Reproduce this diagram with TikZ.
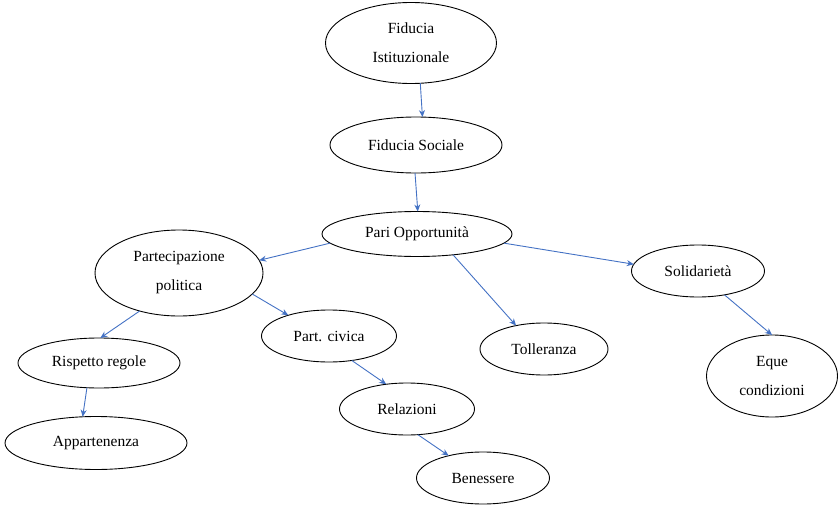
\documentclass[tikz,border=0pt]{standalone}
\usepackage{fontspec}
\setmainfont{Liberation Serif}
\usetikzlibrary{shapes.geometric,arrows.meta}
\definecolor{arrowblue}{HTML}{4472C4}
\begin{document}
\begin{tikzpicture}[x=1pt,y=-1pt,
  bubble/.style={draw=black, line width=0.9pt, ellipse, inner sep=0pt, outer sep=0pt,
    font=\fontsize{15.5}{29}\selectfont, align=center},
  link/.style={draw=arrowblue, line width=0.9pt, -{Stealth[length=7pt,width=6pt]}}]
\useasboundingbox (0,0) rectangle (839,506);
\node[bubble, minimum width=171pt, minimum height=81pt] (fi) at (411,43) {Fiducia\\Istituzionale};
\node[bubble, minimum width=172pt, minimum height=56pt] (fs) at (416,145) {Fiducia Sociale};
\node[bubble, minimum width=190pt, minimum height=45pt] (po) at (417,234) {Pari Opportunità};
\node[bubble, minimum width=168pt, minimum height=86pt] (pp) at (179,273) {Partecipazione\\politica};
\node[bubble, minimum width=162pt, minimum height=50pt] (rr) at (99,363) {Rispetto regole};
\node[bubble, minimum width=182pt, minimum height=53pt] (ap) at (96,443) {Appartenenza};
\node[bubble, minimum width=135pt, minimum height=52pt] (pc) at (329,336) {Part. civica};
\node[bubble, minimum width=135pt, minimum height=52pt] (re) at (407,409) {Relazioni};
\node[bubble, minimum width=133pt, minimum height=52pt] (be) at (483,478) {Benessere};
\node[bubble, minimum width=128pt, minimum height=52pt] (to) at (544,349) {Tolleranza};
\node[bubble, minimum width=133pt, minimum height=52pt] (so) at (698,271) {Solidarietà};
\node[bubble, minimum width=131pt, minimum height=82pt] (eq) at (772,376) {Eque\\condizioni};

\draw[link] (fi.-77) -- (fs.77);
\draw[link] (fs.-92) -- (po.88);
\draw[link] (po.-174) -- (pp.9);
\draw[link] (pp.-16) -- (pc.153);
\draw[link] (pp.-136) -- (rr.87);
\draw[link] (rr.-116) -- (ap.117);
\draw[link] (pc.-47) -- (re.130);
\draw[link] (re.-67) -- (be.147);
\draw[link] (po.-30) -- (to.140);
\draw[link] (po.-6) -- (so.174);
\draw[link] (so.-42) -- (eq.90);
\end{tikzpicture}
\end{document}
